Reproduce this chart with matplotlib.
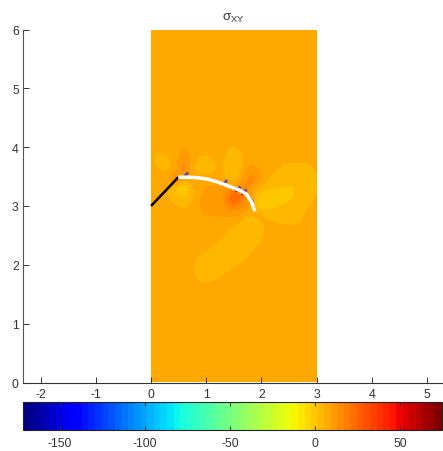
import numpy as np
import matplotlib
matplotlib.use('Agg')
import matplotlib.pyplot as plt
from matplotlib.patches import Rectangle

plt.rcParams['font.family'] = ['Liberation Sans', 'DejaVu Sans']
plt.rcParams['mathtext.fontset'] = 'custom'
plt.rcParams['mathtext.rm'] = 'Liberation Sans'
plt.rcParams['mathtext.default'] = 'rm'
plt.rcParams['axes.unicode_minus'] = False

title_text = r'$\sigma_{XY}$'
x_ticks = [-2, -1, 0, 1, 2, 3, 4, 5]
y_ticks = [0, 1, 2, 3, 4, 5, 6]
cbar_ticks = [-150, -100, -50, 0, 50]
vmin, vmax = -171.5, 74.4
background = 6.0

grid_step = 0.15
# stress: rows y = 4.2 down to 1.8, columns x = 0 .. 3 step 0.15
field_top_y = 4.2
field_rows = [
 [0,0,0,0, 0, 0, 0, 0, 0, 0, 0, 0, 0, 0, 0, 0, 0, 0, 0, 0, 0],
 [0,0,0,0, 2, 0, 0, 0, 0, 0, 0, 0, 0, 0, 0, 0, 0, 0, 0, 0, 0],
 [0,-1,0,1, 6, 1, 0, 0, 0, 0,-3, 0, 0, 0, 0, 0, 0, 0, 0, 0, 0],
 [0,-2,-2,1, 9, 1,-2,-2, 0,-1,-4,-1, 2, 0, 0, 0, 0, 0, 0, 0, 0],
 [0, 0,-2,0,14,-2,-6,-3, 0,-1,-5,-1, 7, 4, 0, 0,-2,-3,-3,-2, 0],
 [0, 0, 1,18,-4, 7, 4, 2, 1, 0,-4, 3,11, 6,-1,-2,-3,-4,-4,-3,-1],
 [0, 0, 0,-6,-11,-2,2, 4, 4, 4, 4, 8, 8,-2,-3,-4,-5,-5,-4,-3,-1],
 [0, 0, 0,-3,-6,-1, 4, 4, 5, 7,30,12, 3,-6,-8,-8,-7,-5,-3,-2, 0],
 [0, 0, 0, 0,-1, 0, 4, 4, 5, 7,11, 8, 4,-11,-7,-5,-4,-3,-2,-1, 0],
 [0, 0, 0, 0, 0, 0, 3, 4, 4, 4, 5, 3,-1, 3,-2,-3,-2,-2,-1, 0, 0],
 [0, 0, 0, 0, 0, 0, 0, 1, 1, 0, 0,-2,-6,-2, 0, 0,-1,-1,-1, 0, 0],
 [0, 0, 0, 0, 0, 0, 0, 0, 0, 0,-2,-4,-4,-2, 0, 0, 0, 0, 0, 0, 0],
 [0, 0, 0, 0, 0, 0, 0, 0, 0,-2,-4,-4,-3,-1, 0, 0, 0, 0, 0, 0, 0],
 [0, 0, 0, 0, 0, 0, 0, 0,-2,-4,-4,-3,-1, 0, 0, 0, 0, 0, 0, 0, 0],
 [0, 0, 0, 0, 0, 0,-1,-3,-4,-4,-3,-1, 0, 0, 0, 0, 0, 0, 0, 0, 0],
 [0, 0, 0, 0, 0, 0,-3,-4,-3,-2, 0, 0, 0, 0, 0, 0, 0, 0, 0, 0, 0],
 [0, 0, 0, 0, 0, 0,-2,-2,-1, 0, 0, 0, 0, 0, 0, 0, 0, 0, 0, 0, 0],
]

kink_x = [0.0, 0.495]
kink_y = [3.0, 3.49]
crack_x = [0.495, 0.585, 0.8, 1.01, 1.2, 1.40, 1.6, 1.73, 1.82, 1.88]
crack_y = [3.49, 3.49, 3.485, 3.46, 3.41, 3.34, 3.27, 3.2, 3.07, 2.91]
mark_x0 = [0.61, 1.32, 1.56, 1.67, 1.80]
mark_y0 = [3.51, 3.38, 3.27, 3.22, 3.12]
mark_x1 = [0.67, 1.38, 1.62, 1.73, 1.85]
mark_y1 = [3.57, 3.44, 3.33, 3.28, 3.06]

W, H = 443, 452
fig = plt.figure(figsize=(W / 100, H / 100), dpi=100)
ax = fig.add_axes([23 / W, (H - 383.5) / H, 420 / W, 353 / H])
ax.set_xlim(-2.32, 5.29)
ax.set_ylim(0, 6)

nrows = int(round(6 / grid_step)) + 1
ncols = len(field_rows[0])
field = np.zeros((nrows, ncols))
top_index = int(round(field_top_y / grid_step))
for i, row in enumerate(field_rows):
    field[top_index - i] = row
field += background

cmap = plt.get_cmap('jet', 64)
im = ax.imshow(field, origin='lower', extent=(-grid_step / 2, 3 + grid_step / 2,
               -grid_step / 2, 6 + grid_step / 2), cmap=cmap, vmin=vmin, vmax=vmax,
               interpolation='bicubic', interpolation_stage='data', aspect='auto', zorder=1)
im.set_clip_path(Rectangle((0, 0), 3, 6, transform=ax.transData))

ax.plot(kink_x, kink_y, color='black', lw=1.8, zorder=3, solid_capstyle='butt')
for xa, ya, xb, yb in zip(mark_x0, mark_y0, mark_x1, mark_y1):
    ax.plot([xa, xa - (xb - xa) * 0.5], [ya, ya - (yb - ya) * 0.5], color='#b02010', lw=1.5, zorder=2, solid_capstyle='butt')
    ax.plot([xa, xb], [ya, yb], color='#5a50b0', lw=2.0, zorder=3, solid_capstyle='butt')
ax.plot(crack_x, crack_y, color='white', lw=2.5, zorder=4, solid_capstyle='butt', solid_joinstyle='round')

for s in ('top', 'right'):
    ax.spines[s].set_visible(False)
ax.spines['left'].set_color('#555555')
ax.spines['bottom'].set_color('#333333')
ax.spines['left'].set_linewidth(0.8)
ax.spines['bottom'].set_linewidth(0.8)
ax.set_xticks(x_ticks)
ax.set_yticks(y_ticks)
ax.tick_params(direction='in', length=4, width=0.7, labelsize=8.8, colors='#333333', pad=3)
ax.tick_params(axis='x', pad=4)
ax.set_title(title_text, fontsize=9.5, pad=7, color='#333333')

cax = fig.add_axes([23 / W, (H - 431) / H, 419 / W, 28 / H])
cb = fig.colorbar(im, cax=cax, orientation='horizontal', drawedges=False)
cb.set_ticks(cbar_ticks)
cb.outline.set_edgecolor('#222222')
cb.outline.set_linewidth(0.8)
cax.tick_params(axis='x', direction='in', top=True, bottom=True, length=3, width=0.7,
                labelsize=8.8, colors='#333333', pad=5)
fig.savefig('out.png', dpi=100)
